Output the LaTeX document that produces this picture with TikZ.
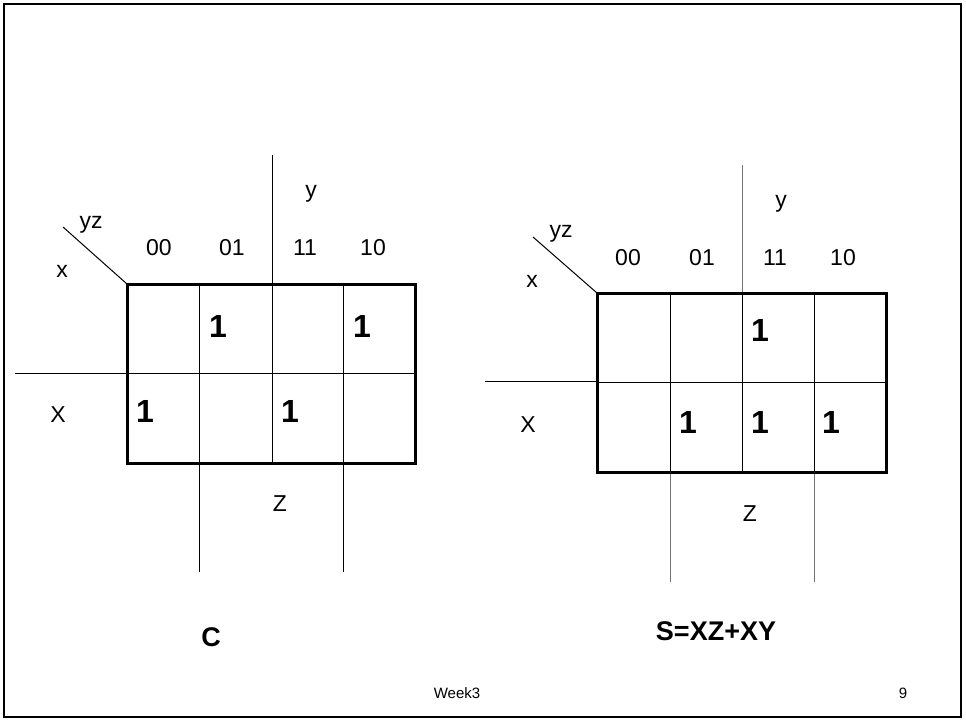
\documentclass[tikz,border=0pt]{standalone}
\usepackage{fontspec}
\setmainfont{Liberation Sans}
\begin{document}
\begin{tikzpicture}[x=1pt,y=-1pt,
  lbl/.style={inner sep=0pt,font=\fontsize{23}{26}\selectfont},
  one/.style={inner sep=0pt,font=\fontsize{32}{36}\selectfont\bfseries},
  gridline/.style={line width=1pt},
  boxline/.style={line width=3pt},
  captxt/.style={inner sep=0pt,font=\fontsize{27}{30}\selectfont\bfseries},
  foot/.style={inner sep=0pt,font=\fontsize{15}{18}\selectfont}]
\useasboundingbox (0,0) rectangle (966,721);
\draw[line width=2pt] (4,4) rectangle (961,717);

% ---------- Left K-map ----------
\coordinate (Ltl) at (127,284);
\coordinate (Lbr) at (415,463);
\draw[gridline] (127,373) -- (415,373);
\draw[gridline] (199,284) -- (199,463);
\draw[gridline] (343,284) -- (343,463);
\draw[gridline] (272,155) -- (272,463);
\draw[gridline] (199,463) -- (199,572);
\draw[gridline] (343,463) -- (343,572);
\draw[gridline] (15,373) -- (127,373);
\coordinate (Ldiag) at (63,227);
\draw[gridline] (Ldiag) -- (Ltl);
\draw[boxline] (Ltl) rectangle (Lbr);
\node[lbl] (Ly) at (311,194) {y};
\node[lbl] (Lyz) at (91,225) {yz};
\node[lbl] (L00) at (159,248) {00};
\node[lbl] (L01) at (232,248) {01};
\node[lbl] (L11) at (305,248) {11};
\node[lbl] (L10) at (373,248) {10};
\node[lbl] (Lx) at (62,271) {x};
\node[lbl] (LX) at (58,415) {X};
\node[lbl] (LZ) at (280,504) {Z};
\node[one] (L1a) at (218,326) {1};
\node[one] (L1b) at (362,326) {1};
\node[one] (L1c) at (145,411) {1};
\node[one] (L1d) at (290,411) {1};
\node[captxt] (LC) at (211,637) {C};

% ---------- Right K-map ----------
\coordinate (Rtl) at (597,293);
\coordinate (Rbr) at (886,472);
\draw[gridline] (597,382) -- (886,382);
\draw[gridline] (670,293) -- (670,472);
\draw[gridline] (814,293) -- (814,472);
\draw[gridline,black!55] (742,165) -- (742,293);
\draw[gridline] (742,293) -- (742,472);
\draw[gridline,black!55] (670,472) -- (670,582);
\draw[gridline,black!55] (814,472) -- (814,582);
\draw[gridline] (485,381) -- (597,381);
\coordinate (Rdiag) at (533,237);
\draw[gridline] (Rdiag) -- (Rtl);
\draw[boxline] (Rtl) rectangle (Rbr);
\node[lbl] (Ry) at (781,204) {y};
\node[lbl] (Ryz) at (561,234) {yz};
\node[lbl] (R00) at (628,258) {00};
\node[lbl] (R01) at (702,258) {01};
\node[lbl] (R11) at (775,258) {11};
\node[lbl] (R10) at (843,258) {10};
\node[lbl] (Rx) at (532,281) {x};
\node[lbl] (RX) at (528,425) {X};
\node[lbl] (RZ) at (750,514) {Z};
\node[one] (R1a) at (760,330) {1};
\node[one] (R1b) at (688,422) {1};
\node[one] (R1c) at (760,422) {1};
\node[one] (R1d) at (831,422) {1};
\node[captxt] (RS) at (716,631) {S=XZ+XY};

\node[foot] (week) at (457,693) {Week3};
\node[foot] (page) at (903,693) {9};
\end{tikzpicture}
\end{document}
